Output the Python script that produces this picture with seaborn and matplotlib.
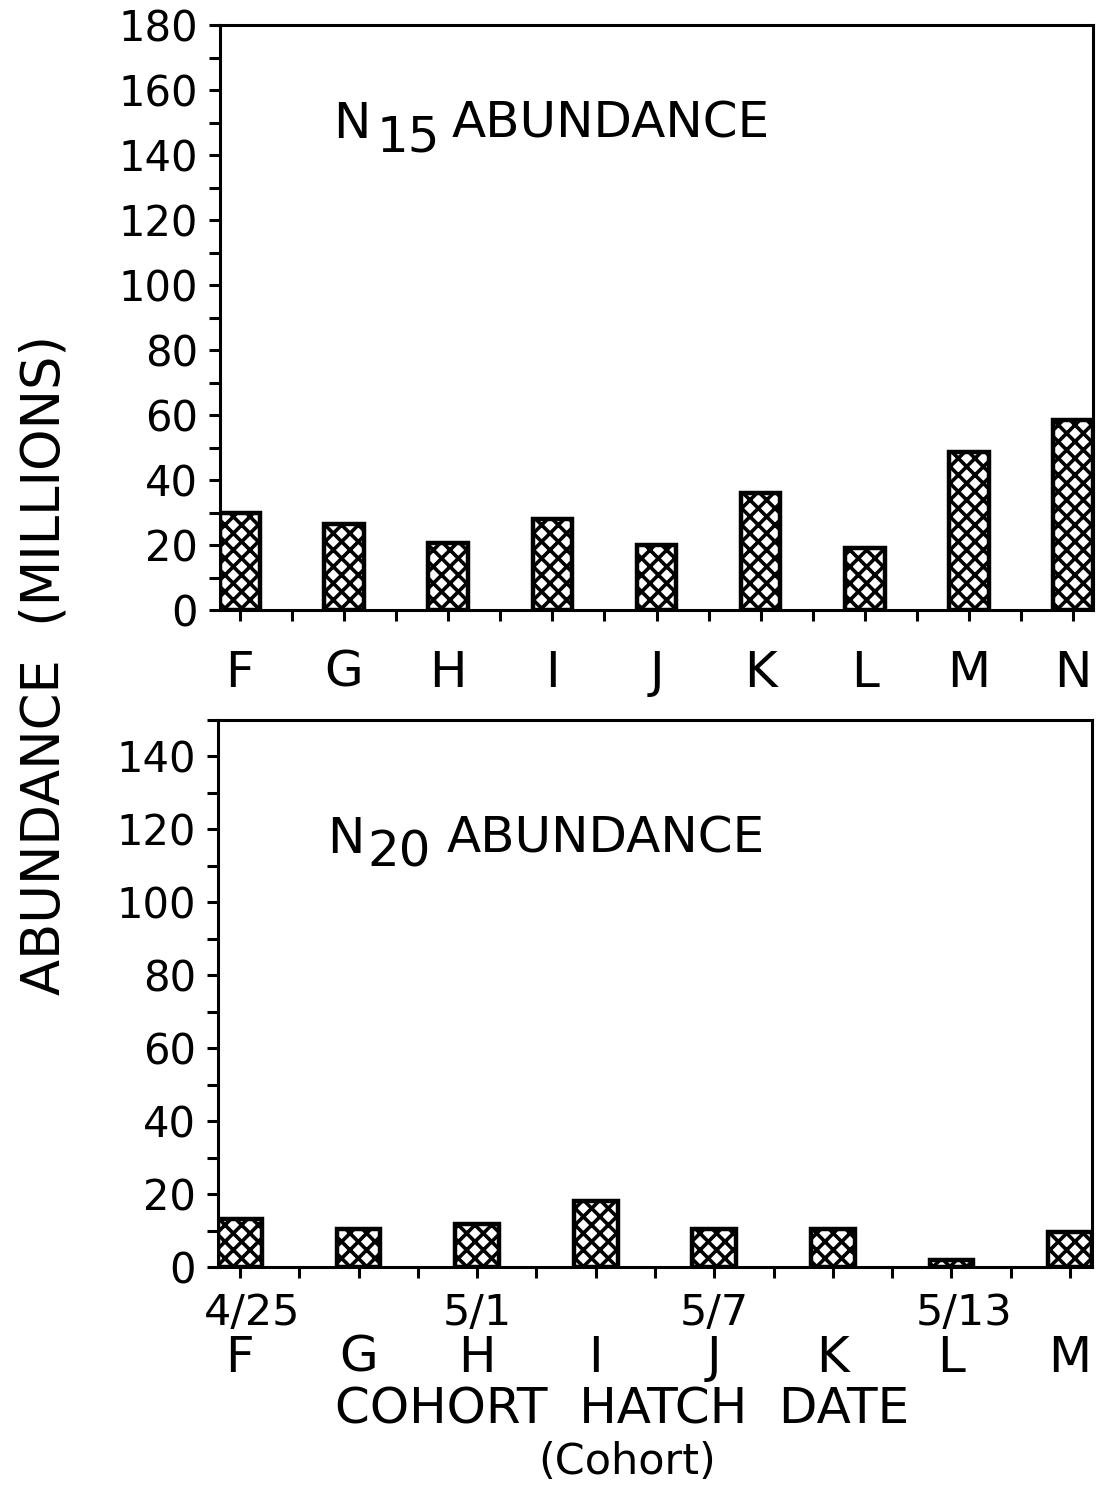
import numpy as np
import pandas as pd
import matplotlib
matplotlib.use("Agg")
import matplotlib.pyplot as plt
from matplotlib.ticker import MultipleLocator
import seaborn as sns

# ── data ──────────────────────────────────────────────────────────────────────
n15_cohorts = ["F", "G", "H", "I", "J", "K", "L", "M", "N"]
n15_values  = [30, 26.5, 20.5, 28, 20, 36, 19, 48.5, 58.5]

n20_cohorts = ["F", "G", "H", "I", "J", "K", "L", "M"]
n20_values  = [13.2, 10.3, 11.9, 18.1, 10.4, 10.3, 1.9, 9.7]

# hatch dates shown above some of the N20 cohorts
date_cohorts = ["F", "H", "J", "L"]
date_labels  = ["4/25", "5/1", "5/7", "5/13"]

# ── style ─────────────────────────────────────────────────────────────────────
sns.set_style("ticks")
plt.rcParams["font.family"] = ["DejaVu Sans"]
plt.rcParams["hatch.linewidth"] = 2.6
plt.rcParams["hatch.color"] = "black"
plt.rcParams["text.color"] = "black"
plt.rcParams["xtick.color"] = "black"
plt.rcParams["ytick.color"] = "black"
plt.rcParams["xtick.labelcolor"] = "black"
plt.rcParams["ytick.labelcolor"] = "black"

W, H = 1099, 1485
fig = plt.figure(figsize=(W / 100, H / 100), dpi=100)

def px_axes(left, right, top, bottom):
    return fig.add_axes([left / W, 1 - bottom / H, (right - left) / W, (bottom - top) / H])

ax1 = px_axes(220, 1093, 25, 610)
ax2 = px_axes(218, 1092, 720, 1267)

def draw_bars(ax, cohorts, values, ymax, width):
    df = pd.DataFrame({"cohort": cohorts, "value": values})
    sns.barplot(data=df, x="cohort", y="value", color="white", saturation=1,
                edgecolor="black", linewidth=3.2, width=width, ax=ax)
    for p in ax.patches:
        p.set_hatch("xx")
    ax.set_ylim(0, ymax)
    ax.set_xlim(-width / 2, len(cohorts) - 1 + width / 2)
    ax.set_xlabel("")
    ax.set_ylabel("")
    ax.yaxis.set_major_locator(MultipleLocator(20))
    ax.yaxis.set_minor_locator(MultipleLocator(10))
    ax.set_xticks(np.arange(len(cohorts)))
    ax.set_xticks(np.arange(len(cohorts) - 1) + 0.5, minor=True)
    for side in ["top", "right", "left", "bottom"]:
        ax.spines[side].set_visible(True)
        ax.spines[side].set_linewidth(2.2)
        ax.spines[side].set_color("black")
    ax.tick_params(which="both", direction="out", length=8, width=2.2, color="black")
    ax.tick_params(axis="y", labelsize=30, pad=8)

draw_bars(ax1, n15_cohorts, n15_values, 180, 0.38)
draw_bars(ax2, n20_cohorts, n20_values, 150, 0.37)

ax1.tick_params(axis="x", labelsize=36, pad=20)
ax2.tick_params(axis="x", labelsize=36, pad=40)

# dates over the letters, slash roughly over the letter
for c, d in zip(date_cohorts, date_labels):
    i = n20_cohorts.index(c)
    before, after = d.split("/")
    dx = (len(after) - len(before)) * 9
    ax2.annotate(d, xy=(i, 0), xycoords=("data", "axes fraction"),
                 xytext=(dx, -18), textcoords="offset points",
                 ha="center", va="top", fontsize=31)

# panel titles: N with a same-size lowered subscript
def panel_title(x_n, x_sub, x_word, base, sub):
    fig.text(x_n / W, 1 - base / H, "N", fontsize=36, va="baseline")
    fig.text(x_sub / W, 1 - (base + 13) / H, sub, fontsize=36, va="baseline")
    fig.text(x_word / W, 1 - base / H, "ABUNDANCE", fontsize=36, va="baseline")

panel_title(333, 377, 452, 138, "15")
panel_title(327, 367, 447, 853, "20")

fig.text(45 / W, 1 - 665 / H, "ABUNDANCE  (MILLIONS)", rotation=90,
         ha="center", va="center", fontsize=38)
fig.text(622 / W, 1 - 1410 / H, "COHORT  HATCH  DATE", ha="center", va="center",
         fontsize=36)
fig.text(627 / W, 1 - 1462 / H, "(Cohort)", ha="center", va="center", fontsize=31)

fig.savefig("out.png", dpi=100)
